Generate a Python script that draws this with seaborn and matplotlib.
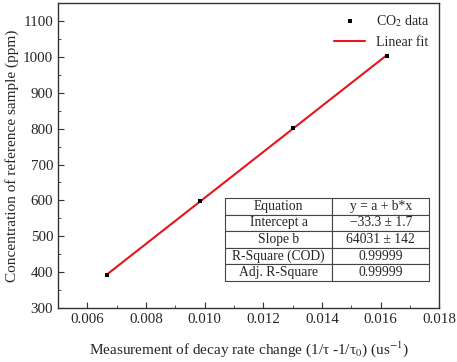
import matplotlib
matplotlib.use("Agg")
from matplotlib import pyplot as plt
from matplotlib.ticker import MultipleLocator
import seaborn as sns
import numpy as np
import pandas as pd

# dati
x_data = [0.00667, 0.00985, 0.01303, 0.01622]
y_data = [391, 597, 802, 1003]
intercept = -33.3
slope = 64031

table_rows = [
    ["Equation", "y = a + b*x"],
    ["Intercept a", "\u221233.3 \u00b1 1.7"],
    ["Slope b", "64031 \u00b1 142"],
    ["R-Square (COD)", "0.99999"],
    ["Adj. R-Square", "0.99999"],
]

sns.set_style("white")
plt.rcParams['font.family'] = ['Liberation Serif', 'DejaVu Serif']
plt.rcParams['mathtext.fontset'] = 'stix'

df = pd.DataFrame({'x': x_data, 'y': y_data})
fit = pd.DataFrame({'x': x_data, 'y': [intercept + slope * v for v in x_data]})

fig = plt.figure(figsize=(4.57, 3.62), dpi=100)
ax = fig.add_axes([0.127, 0.149, 0.834, 0.8425])

sns.lineplot(data=fit, x='x', y='y', ax=ax, color='#e8141c', linewidth=1.5, label='Linear fit', zorder=2)
sns.scatterplot(data=df, x='x', y='y', ax=ax, color='black', marker='s', s=9, linewidth=0,
                label='CO$_2$ data', zorder=3)

ax.set_xlim(0.005, 0.018)
ax.set_ylim(300, 1150)
ax.xaxis.set_minor_locator(MultipleLocator(0.001))
ax.yaxis.set_major_locator(MultipleLocator(100))
ax.yaxis.set_minor_locator(MultipleLocator(50))
ax.set_xticks(np.arange(0.006, 0.0181, 0.002))
ax.tick_params(which='both', direction='in', top=False, right=False, bottom=True, left=True,
               labelsize=10.8, color='#333333')
ax.tick_params(which='major', length=4)
ax.tick_params(which='minor', length=2.5)
for s in ax.spines.values():
    s.set_color('#333333')
    s.set_linewidth(1.0)

ax.set_xlabel('Measurement of decay rate change (1/\u03c4 -1/\u03c4$_0$) (us$^{-1}$)', fontsize=11, labelpad=10)
ax.set_ylabel('Concentration of reference sample (ppm)', fontsize=11, labelpad=3)

handles, labels = ax.get_legend_handles_labels()
leg = ax.legend(handles[::-1], labels[::-1], loc='upper right', frameon=False, fontsize=10,
                handlelength=2.2, borderaxespad=0.3, labelspacing=0.5)

tab = ax.table(cellText=table_rows, cellLoc='center', colWidths=[0.525, 0.475],
               bbox=[0.438, 0.0885, 0.536, 0.2725])
tab.auto_set_font_size(False)
tab.set_fontsize(9.8)
for cell in tab.get_celld().values():
    cell.set_edgecolor('#444444')
    cell.set_linewidth(0.8)

fig.savefig("out.png", dpi=100)
